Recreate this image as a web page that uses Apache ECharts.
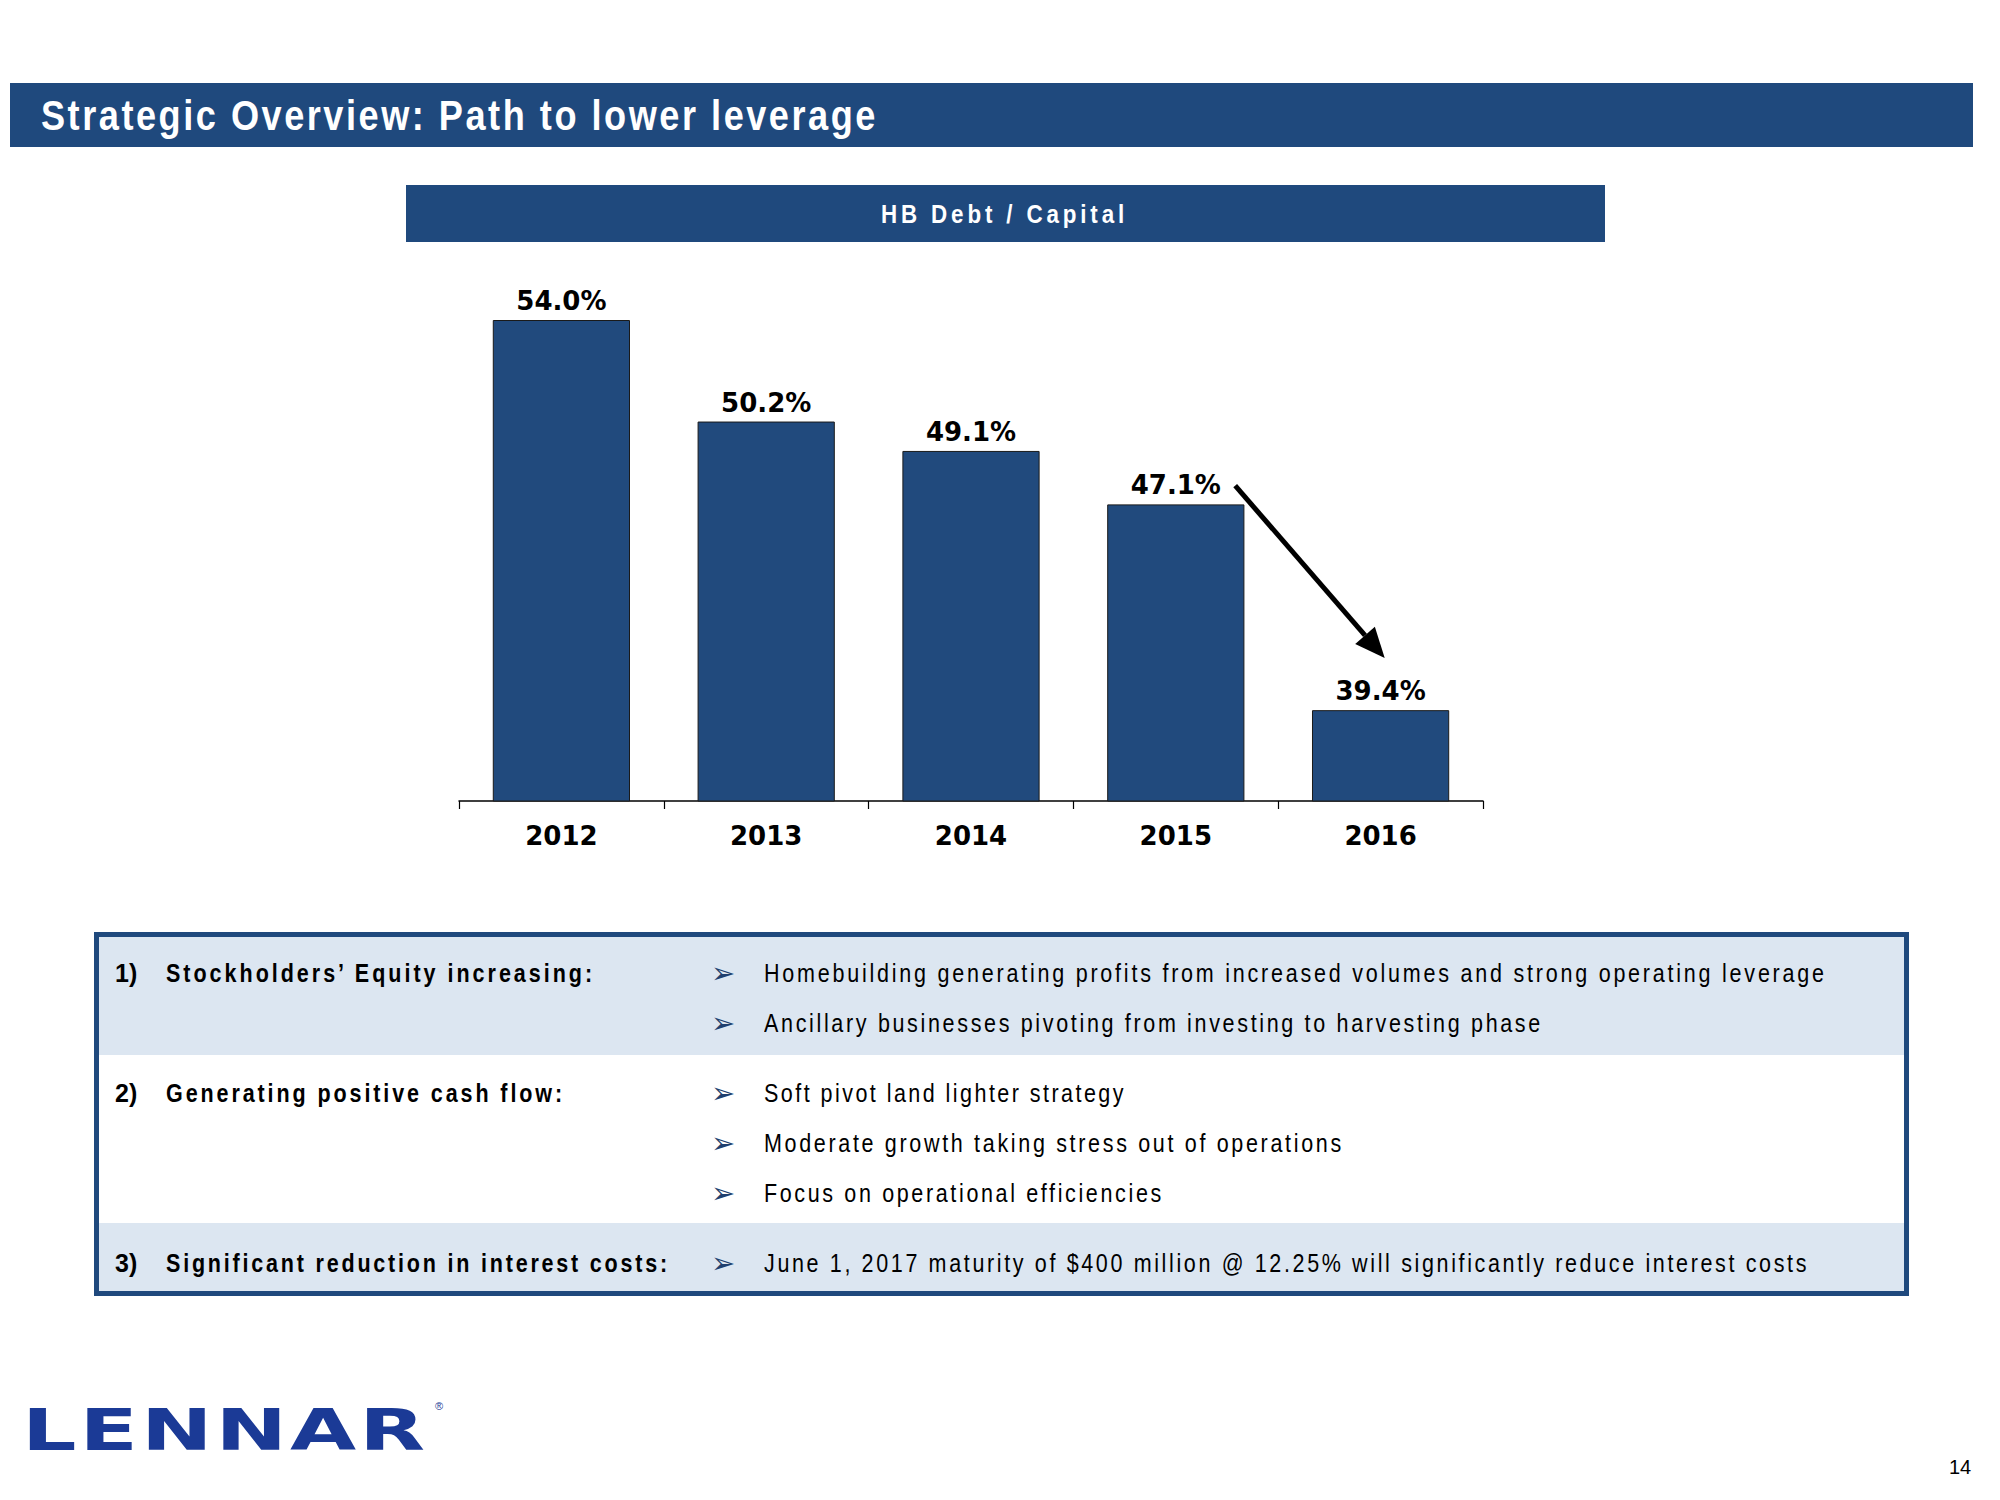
<!DOCTYPE html>
<html>
<head>
<meta charset="utf-8">
<script src="https://cdn.jsdelivr.net/npm/echarts@6/dist/echarts.min.js"></script>
<style>
  html, body { margin:0; padding:0; background:#fff; }
  #page { position:relative; width:2000px; height:1500px; overflow:hidden; background:#fff; }
  #chart { position:absolute; left:0; top:0; width:2000px; height:1500px; }
  .abs { position:absolute; white-space:nowrap; }
  .arial { font-family:"Liberation Sans",Arial,sans-serif; }
  .fit { transform-origin:left center; }
  .row { position:absolute; left:0; width:100%; }
  .txt { position:absolute; line-height:30px; height:30px; color:#000; white-space:nowrap; }
  .bul { position:absolute; line-height:30px; height:30px; color:#1F3F6E; font-family:"DejaVu Sans",sans-serif; font-size:29px; }
</style>
</head>
<body>
<div id="page">
  <div id="chart"></div>

  <!-- title banner -->
  <div class="abs" style="left:10px;top:83px;width:1963px;height:64px;background:#1F497D;"></div>
  <div class="abs arial fit" data-w="837" style="left:41px;top:84px;height:64px;line-height:64px;color:#fff;font-weight:bold;font-size:42px;">Strategic Overview: Path to lower leverage</div>

  <!-- chart header banner -->
  <div class="abs" style="left:406px;top:185px;width:1199px;height:57px;background:#1F497D;"></div>
  <div class="abs arial fit" data-w="247" style="left:881px;top:186px;height:57px;line-height:57px;color:#fff;font-weight:bold;font-size:26px;">HB Debt / Capital</div>

  <!-- table -->
  <div class="abs" style="left:94px;top:932px;width:1805px;height:354px;border:5px solid #1F497D;background:#fff;">
    <div class="row" style="top:0;height:118px;background:#DCE6F1;"></div>
    <div class="row" style="top:286px;height:68px;background:#DCE6F1;"></div>
  </div>
  <div id="tbltext"></div>

  <!-- logo -->
  <div class="abs" style="left:22px;top:1398px;height:64px;line-height:64px;color:#1B3A96;font-family:'DejaVu Sans',sans-serif;font-weight:bold;font-size:57px;letter-spacing:2px;transform:scaleX(1.5);transform-origin:left center;">LENNAR</div>
  <div class="abs arial" style="left:435px;top:1400px;font-size:11px;color:#1B3A96;">®</div>

  <!-- page number -->
  <div class="abs arial" style="left:1949px;top:1456px;font-size:20px;color:#000;">14</div>
</div>

<script>
// ---- chart data ----
const years = ['2012', '2013', '2014', '2015', '2016'];
const debtToCapital = [54.0, 50.2, 49.1, 47.1, 39.4];

// ---- table content ----
const tableNums = ['1)', '2)', '3)'];
const tableHeads = [
  'Stockholders\u2019 Equity increasing:',
  'Generating positive cash flow:',
  'Significant reduction in interest costs:'
];
const tableBullets = [
  ['Homebuilding generating profits from increased volumes and strong operating leverage',
   'Ancillary businesses pivoting from investing to harvesting phase'],
  ['Soft pivot land lighter strategy',
   'Moderate growth taking stress out of operations',
   'Focus on operational efficiencies'],
  ['June 1, 2017 maturity of $400 million @ 12.25% will significantly reduce interest costs']
];
// text widths in the reference (layout)
const headW = [429, 399, 504];
const bulletW = [[1063, 779], [362, 580, 400], [1045]];

(function () {
  const host = document.getElementById('tbltext');
  const rowStarts = [973, 1093, 1263];
  const lineGap = 50;
  let html = '';
  tableHeads.forEach((h, i) => {
    const y = rowStarts[i] - 15;
    html += `<div class="txt arial" style="left:115px;top:${y}px;font-size:25px;font-weight:bold;">${tableNums[i]}</div>`;
    html += `<div class="txt arial fit" data-w="${headW[i]}" style="left:166px;top:${y}px;font-size:25px;font-weight:bold;">${h}</div>`;
    tableBullets[i].forEach((b, j) => {
      const yy = y + j * lineGap;
      html += `<div class="bul" style="left:711px;top:${yy}px;">\u27A2</div>`;
      html += `<div class="txt arial fit" data-w="${bulletW[i][j]}" style="left:764px;top:${yy}px;font-size:25px;">${b}</div>`;
    });
  });
  host.innerHTML = html;
})();

// condense glyphs slightly and letter-space to the reference width
document.querySelectorAll('.fit').forEach(el => {
  const target = +el.dataset.w;
  const s = 0.86;
  const n = el.textContent.length;
  el.style.display = 'inline-block';
  const w0 = el.getBoundingClientRect().width;
  const ls = (target / s - w0) / n;
  el.style.letterSpacing = ls.toFixed(2) + 'px';
  el.style.transform = `scaleX(${s})`;
});

const chart = echarts.init(document.getElementById('chart'), null, { renderer: 'svg', width: 2000, height: 1500 });
const labelFont = { fontFamily: 'DejaVu Sans', fontWeight: 'bold', fontSize: 26, color: '#000' };
chart.setOption({
  animation: false,
  backgroundColor: 'transparent',
  grid: { left: 459, right: 517, top: 320, bottom: 699 },
  xAxis: {
    type: 'category',
    data: years,
    axisLine: { lineStyle: { color: '#000', width: 1.5 } },
    axisTick: { show: true, length: 8, lineStyle: { color: '#000', width: 1.2 } },
    axisLabel: Object.assign({ margin: 22 }, labelFont)
  },
  yAxis: { type: 'value', min: 36, max: 54, show: false },
  series: [{
    type: 'bar',
    data: debtToCapital,
    barCategoryGap: '33%',
    itemStyle: { color: '#214A7D', borderColor: '#1a1a1a', borderWidth: 1 },
    label: Object.assign({
      show: true, position: 'top', distance: 6,
      formatter: p => p.value.toFixed(1) + '%'
    }, labelFont)
  }]
});

// annotation arrow from the 2015 label toward the 2016 bar, positioned via axis scales
(function () {
  const c3 = chart.convertToPixel({ xAxisIndex: 0, yAxisIndex: 0 }, [3, 47.8]);
  const c4 = chart.convertToPixel({ xAxisIndex: 0, yAxisIndex: 0 }, [4, 41.35]);
  const catW = chart.convertToPixel({ xAxisIndex: 0 }, 4) - chart.convertToPixel({ xAxisIndex: 0 }, 3);
  const x1 = c3[0] + 0.29 * catW, y1 = c3[1];
  const x2 = c4[0] + 0.02 * catW, y2 = c4[1];
  const ang = Math.atan2(y2 - y1, x2 - x1);
  const headL = 30, headW = 13;
  const bx = x2 - headL * Math.cos(ang), by = y2 - headL * Math.sin(ang);
  const px = -Math.sin(ang), py = Math.cos(ang);
  chart.setOption({
    graphic: [
      { type: 'line', shape: { x1: x1, y1: y1, x2: bx, y2: by }, style: { stroke: '#000', lineWidth: 5 } },
      { type: 'polygon', shape: { points: [[x2, y2], [bx + px * headW, by + py * headW], [bx - px * headW, by - py * headW]] }, style: { fill: '#000' } }
    ]
  });
})();
</script>
</body>
</html>
